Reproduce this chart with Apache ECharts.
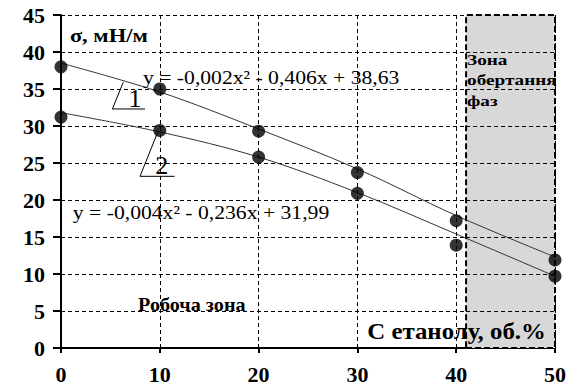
<!DOCTYPE html>
<html>
<head>
<meta charset="utf-8">
<script src="https://cdn.jsdelivr.net/npm/echarts@6/dist/echarts.min.js"></script>
<style>
html,body{margin:0;padding:0;background:#fff;}
#chart{width:570px;height:392px;}
</style>
</head>
<body>
<div id="chart"></div>
<script>
// ---- data ----
const xValues = [0, 10, 20, 30, 40, 50];
const sigma1 = [38.0, 35.0, 29.3, 23.7, 17.2, 11.9];
const sigma2 = [31.2, 29.4, 25.8, 20.9, 13.9, 9.7];
const trend1 = [38.5, 34.6, 29.6, 24.2, 17.9, 12.3];
const trend2 = [31.8, 29.2, 25.8, 21.0, 15.4, 9.7];
const xTicks = [0, 10, 20, 30, 40, 50];
const yTicks = [0, 5, 10, 15, 20, 25, 30, 35, 40, 45];
const zoneStart = 41, zoneEnd = 50;

const eq1 = 'y = -0,002x\u00B2 - 0,406x + 38,63';
const eq2 = 'y = -0,004x\u00B2 - 0,236x + 31,99';
const yTitle = '\u03C3, мН/м';
const xTitle = 'С етанолу, об.%';
const workZone = 'Робоча зона';
const phaseZone = 'Зона\nобертання\nфаз';

const FONT = '"Liberation Serif", "DejaVu Serif", serif';

const chart = echarts.init(document.getElementById('chart'), null, {renderer: 'svg'});
const pairs = (xs, ys) => xs.map((x, i) => [x, ys[i]]);

chart.setOption({
  animation: false,
  grid: {left: 61, right: 15, top: 15, bottom: 44},
  xAxis: {
    type: 'value', min: 0, max: 50, interval: 10,
    axisLine: {show: true, onZero: false, lineStyle: {color: '#000', width: 2}},
    axisTick: {show: true, length: 5, lineStyle: {color: '#000', width: 2}},
    axisLabel: {margin: 15, color: '#000', fontFamily: FONT, fontWeight: 'bold', fontSize: 22},
    splitLine: {show: true, lineStyle: {color: '#000', width: 1, type: [4, 3]}}
  },
  yAxis: {
    type: 'value', min: 0, max: 45, interval: 5,
    axisLine: {show: true, onZero: false, lineStyle: {color: '#000', width: 2}},
    axisTick: {show: true, length: 8, lineStyle: {color: '#000', width: 2}},
    axisLabel: {margin: 16, color: '#000', fontFamily: FONT, fontWeight: 'bold', fontSize: 22},
    splitLine: {show: true, lineStyle: {color: '#000', width: 1, type: [4, 3]}}
  },
  series: [
    {
      type: 'line', data: [], silent: true, z: 1,
      markArea: {
        silent: true,
        itemStyle: {color: '#d8d8d8', borderColor: '#000', borderWidth: 2, borderType: [6, 3]},
        data: [[{xAxis: zoneStart, yAxis: 0}, {xAxis: zoneEnd, yAxis: 45}]]
      }
    },
    {
      type: 'line', data: [], silent: true, z: 2,
      markLine: {
        silent: true, symbol: ['none', 'none'], label: {show: false},
        lineStyle: {color: '#000', width: 1, type: [4, 3]},
        data: yTicks.filter(v => v > 0 && v < 45).map(v => [{coord: [zoneStart, v]}, {coord: [zoneEnd, v]}])
      }
    },
    {type: 'line', data: pairs(xValues, trend1), smooth: 0.35, showSymbol: false,
     lineStyle: {color: '#333', width: 1}, z: 3},
    {type: 'line', data: pairs(xValues, trend2), smooth: 0.35, showSymbol: false,
     lineStyle: {color: '#333', width: 1}, z: 3},
    {type: 'scatter', data: pairs(xValues, sigma1), symbolSize: 13, itemStyle: {color: '#000'}, z: 5},
    {type: 'scatter', data: pairs(xValues, sigma2), symbolSize: 13, itemStyle: {color: '#000'}, z: 5}
  ]
});

const P = (x, y) => chart.convertToPixel({gridIndex: 0}, [x, y]);
const textEl = (pt, text, size, weight, align, vAlign, sx, lh) => ({
  type: 'text', x: pt[0], y: pt[1], z: 10, scaleX: sx || 1,
  style: {text: text, fill: '#000', font: weight + ' ' + size + 'px ' + FONT,
          textAlign: align, textVerticalAlign: vAlign, lineHeight: lh || size}
});
const seg = (a, b) => ({type: 'line', z: 10, silent: true,
  shape: {x1: a[0], y1: a[1], x2: b[0], y2: b[1]}, style: {stroke: '#000', lineWidth: 1}});

chart.setOption({
  graphic: [
    textEl(P(0.9, 42.2), yTitle, 18, 'bold', 'left', 'middle', 1.25),
    textEl(P(8.3, 36.6), eq1, 19, 'normal', 'left', 'middle', 1.14),
    textEl(P(1.2, 18.3), eq2, 19, 'normal', 'left', 'middle', 1.14),
    textEl(P(7.8, 5.8), workZone, 18, 'bold', 'left', 'middle', 1.12),
    textEl(P(31.0, 2.3), xTitle, 23, 'bold', 'left', 'middle', 1.08),
    textEl(P(41.1, 40.3), phaseZone, 15, 'bold', 'left', 'top', 1.28, 20.5),
    seg(P(6.3, 35.9), P(5.2, 32.3)),
    seg(P(5.2, 32.3), P(8.5, 32.3)),
    textEl(P(7.5, 33.7), '1', 26, 'normal', 'center', 'middle'),
    seg(P(9.8, 29.2), P(8.0, 23.2)),
    seg(P(8.0, 23.2), P(11.5, 23.2)),
    textEl(P(10.2, 24.7), '2', 26, 'normal', 'center', 'middle')
  ]
});
</script>
</body>
</html>
